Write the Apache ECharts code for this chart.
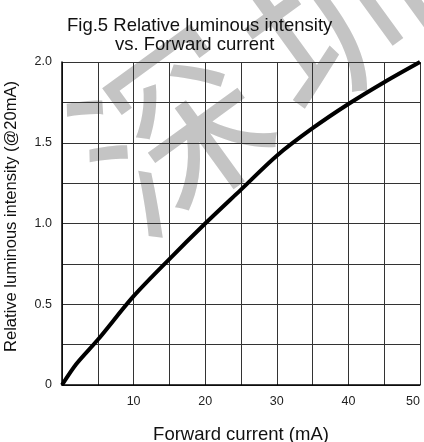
<!DOCTYPE html>
<html>
<head>
<meta charset="utf-8">
<script src="https://cdn.jsdelivr.net/npm/echarts@6/dist/echarts.min.js"></script>
<style>
  html, body { margin: 0; padding: 0; background: #fff; }
  #chart { width: 424px; height: 442px; }
</style>
</head>
<body>
<div id="chart"></div>
<script>
  // forward current (mA) and relative intensity
  const current = [0, 2, 5, 10, 15, 20, 25, 30, 35, 40, 45, 50];
  const intensity = [0, 0.13, 0.28, 0.55, 0.78, 1.0, 1.21, 1.42, 1.59, 1.74, 1.875, 2.0];

  const titleLines = ['Fig.5 Relative luminous intensity', 'vs. Forward current'];
  const xName = 'Forward current (mA)';
  const yName = 'Relative luminous intensity (@20mA)';
  const watermarkChars = ['深', '圳'];

  const points = current.map((c, i) => [c, intensity[i]]);
  const chart = echarts.init(document.getElementById('chart'));

  const font = 'Arial, "Liberation Sans", sans-serif';

  // faint background watermark, one glyph per element
  const markSpots = [[172, 130], [335, 12]];
  const marks = watermarkChars.map((ch, i) => ({
    type: 'text',
    z: -10,
    silent: true,
    x: markSpots[i][0],
    y: markSpots[i][1],
    rotation: 36 * Math.PI / 180,
    style: {
      text: ch,
      fontSize: 185,
      fontFamily: '"Noto Sans CJK SC"',
      fill: '#c4c4c4',
      align: 'center',
      verticalAlign: 'middle'
    }
  }));

  chart.setOption({
    animation: false,
    backgroundColor: '#fff',
    title: [{
      text: titleLines[0],
      left: 62,
      top: 11,
      z: 10,
      textStyle: { fontSize: 18.5, fontWeight: 'normal', color: '#111', fontFamily: font }
    }, {
      text: titleLines[1],
      left: 110,
      top: 30,
      z: 10,
      textStyle: { fontSize: 18.5, fontWeight: 'normal', color: '#111', fontFamily: font }
    }],
    graphic: marks,
    grid: { left: 62, right: 4, top: 62, bottom: 57, outerBoundsMode: 'none' },
    xAxis: {
      type: 'value',
      min: 0,
      max: 50,
      interval: 5,
      name: xName,
      nameLocation: 'middle',
      nameGap: 40,
      nameTextStyle: { fontSize: 18.5, color: '#111', fontFamily: font },
      axisLine: { lineStyle: { color: '#000', width: 1.5 } },
      axisTick: { show: false },
      axisLabel: {
        color: '#222',
        fontSize: 12.5,
        fontFamily: font,
        margin: 10,
        alignMaxLabel: 'right',
        formatter: v => (v > 0 && v % 10 === 0) ? String(v) : ''
      },
      splitLine: { show: true, lineStyle: { color: '#333', width: 1 } }
    },
    yAxis: {
      type: 'value',
      min: 0,
      max: 2,
      interval: 0.25,
      name: yName,
      nameLocation: 'middle',
      nameGap: 42,
      nameTextStyle: { fontSize: 16.5, color: '#111', fontFamily: font, padding: [0, 0, 0, 14] },
      axisLine: { show: true, lineStyle: { color: '#000', width: 1.5 } },
      axisTick: { show: false },
      axisLabel: {
        color: '#222',
        fontSize: 12.5,
        fontFamily: font,
        margin: 10,
        formatter: v => {
          if (Math.abs(v * 2 - Math.round(v * 2)) > 1e-6) return '';
          return v === 0 ? '0' : v.toFixed(1);
        }
      },
      splitLine: { show: true, lineStyle: { color: '#333', width: 1 } }
    },
    series: [{
      type: 'line',
      data: points,
      smooth: 0.3,
      symbol: 'none',
      lineStyle: { color: '#000', width: 4 },
      z: 5
    }]
  });
</script>
</body>
</html>
